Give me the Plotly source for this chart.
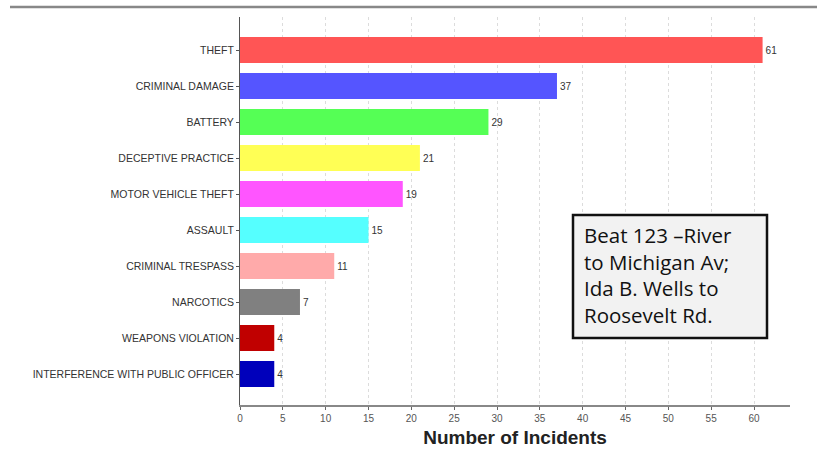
import plotly.graph_objects as go

categories = ["THEFT", "CRIMINAL DAMAGE", "BATTERY", "DECEPTIVE PRACTICE",
              "MOTOR VEHICLE THEFT", "ASSAULT", "CRIMINAL TRESPASS", "NARCOTICS",
              "WEAPONS VIOLATION", "INTERFERENCE WITH PUBLIC OFFICER"]
counts = [61, 37, 29, 21, 19, 15, 11, 7, 4, 4]
colors = ["#ff5555", "#5555ff", "#55ff55", "#ffff55", "#ff55ff",
          "#55ffff", "#ffaaaa", "#808080", "#c00000", "#0000bb"]
tick_vals = list(range(0, 65, 5))
note_lines = ["Beat 123 –River", "to Michigan Av;", "Ida B. Wells to", "Roosevelt Rd."]

W, H = 817, 451
L, R, T, B = 240, 27, 17, 46
PW, PH = W - L - R, H - T - B


def px_x(x):
    return (x - L) / PW


def px_y(y):
    return 1 - (y - T) / PH


fig = go.Figure(go.Bar(
    x=counts, y=list(range(len(categories))), orientation="h",
    marker=dict(color=colors, line=dict(width=0)), width=0.72,
    text=[str(c) for c in counts], textposition="outside",
    textfont=dict(size=10, color="#333333", family="Liberation Sans"),
    cliponaxis=False, showlegend=False, hoverinfo="skip",
))

fig.update_layout(
    width=W, height=H,
    margin=dict(l=L, r=R, t=T, b=B, autoexpand=False),
    paper_bgcolor="white", plot_bgcolor="white",
    font=dict(family="Liberation Sans", color="#333333"),
)
fig.update_xaxes(
    range=[0, 64.2], tickvals=tick_vals, ticktext=[str(v) for v in tick_vals],
    showgrid=True, gridcolor="#dcdcdc", griddash="dot", gridwidth=1,
    zeroline=False, showline=True, linecolor="#888888", linewidth=2,
    ticks="outside", ticklen=3, tickcolor="#666666",
    tickfont=dict(size=10, color="#555555"),
    title=dict(text="<b>Number of Incidents</b>", font=dict(size=19, color="#222222"),
               standoff=8),
)
fig.update_yaxes(
    range=[len(categories) - 1 + 0.86, -0.917],
    tickvals=list(range(len(categories))), ticktext=categories,
    showgrid=False, zeroline=False, showline=True, linecolor="#555555", linewidth=1,
    ticks="outside", ticklen=3, tickcolor="#555555",
    tickfont=dict(size=10.5, color="#333333"),
)

# top rule
fig.add_shape(type="line", xref="paper", yref="paper", x0=px_x(10), x1=px_x(817),
              y0=px_y(7), y1=px_y(7), line=dict(color="#888888", width=2.5))

# note box
fig.add_shape(type="rect", xref="paper", yref="paper",
              x0=px_x(573), x1=px_x(767), y0=px_y(338), y1=px_y(215),
              fillcolor="#f2f2f2", line=dict(color="#111111", width=2.5), layer="above")
fig.add_annotation(
    xref="paper", yref="paper", x=px_x(582), y=px_y(219),
    xanchor="left", yanchor="top", align="left", text="<br>".join(note_lines),
    showarrow=False, font=dict(family="Open Sans", size=20.5, color="#111111"),
)

fig.write_html("out.html", config={"displayModeBar": False},
               post_script="document.body.style.margin='0';")
